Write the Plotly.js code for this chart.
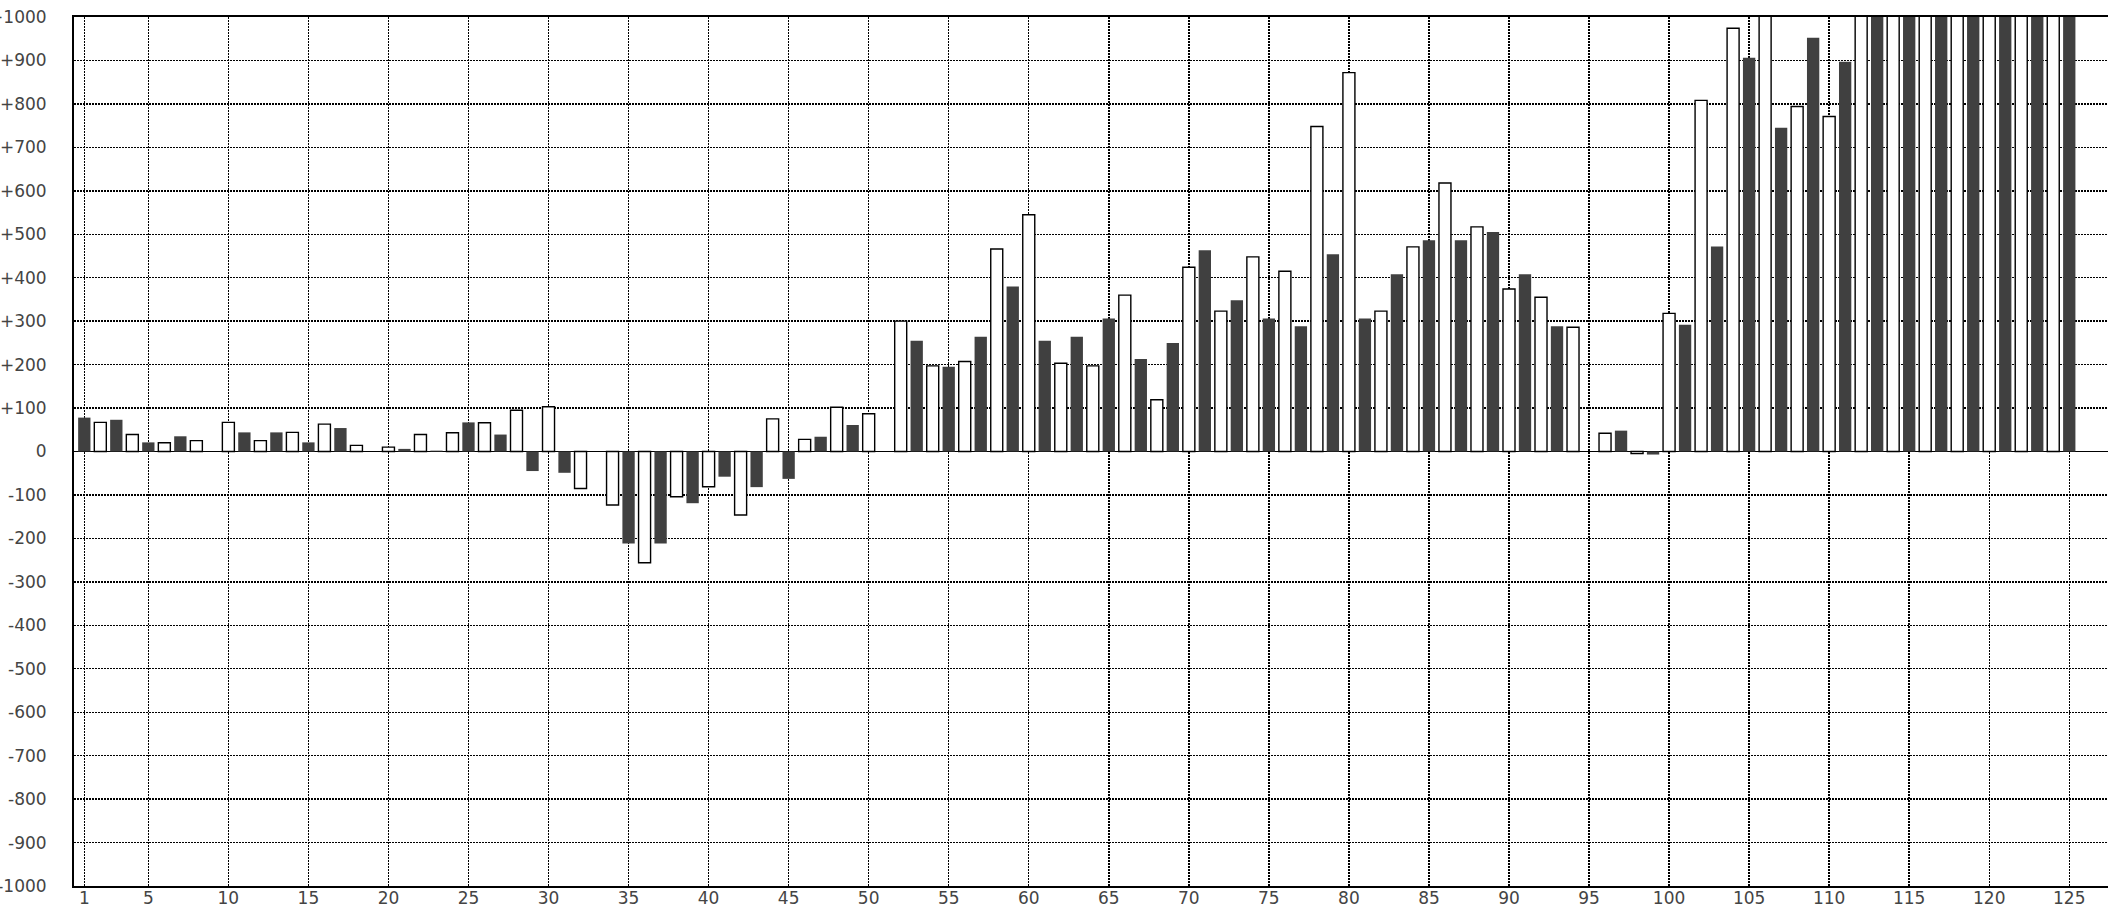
<!DOCTYPE html>
<html>
<head>
<meta charset="utf-8">
<script src="https://cdn.plot.ly/plotly-3.0.1.min.js"></script>
<style>
html,body{margin:0;padding:0;overflow:hidden;background:#fff;}
#chart{width:2112px;height:908px;}
</style>
</head>
<body>
<div id="chart"></div>
<script>
// Dark series: odd positions 1..125
const darkX = [];
for (let i = 1; i <= 125; i += 2) darkX.push(i);
const darkValues = [
  78, 73, 21, 35, 0, 44, 44, 21, 54, 0,
  6, 2, 67, 39, -45, -49, 0, -212, -212, -119,
  -58, -82, -63, 34, 61, 0, 255, 195, 264, 380,
  255, 264, 306, 213, 250, 463, 348, 306, 288, 454,
  306, 408, 486, 486, 505, 408, 288, 0, 48, -7,
  292, 472, 906, 745, 952, 897, 1120, 1240, 1310, 1450,
  1390, 1520, 1610
];
// White series: even positions 2..124
const whiteX = [];
for (let i = 2; i <= 124; i += 2) whiteX.push(i);
const whiteValues = [
  67, 39, 20, 25, 67, 25, 44, 63, 14, 10,
  39, 43, 66, 95, 103, -85, -123, -256, -104, -81,
  -146, 75, 28, 102, 87, 300, 197, 207, 466, 545,
  203, 197, 360, 119, 424, 323, 448, 415, 748, 872,
  323, 471, 618, 517, 374, 355, 286, 42, -5, 318,
  808, 974, 1080, 794, 771, 1150, 1200, 1280, 1330, 1420,
  1480, 1550
];
const xTickVals = [1,5,10,15,20,25,30,35,40,45,50,55,60,65,70,75,80,85,90,95,100,105,110,115,120,125];
const xTickText = xTickVals.map(String);
const yTickVals = [1000,900,800,700,600,500,400,300,200,100,0,-100,-200,-300,-400,-500,-600,-700,-800,-900,-1000];
const yTickText = ["+1000","+900","+800","+700","+600","+500","+400","+300","+200","+100","0","-100","-200","-300","-400","-500","-600","-700","-800","-900","-1000"];

const traces = [
  {
    type: 'bar', x: darkX, y: darkValues, width: 0.77,
    marker: {color: '#404040', line: {width: 0}},
    hoverinfo: 'x+y'
  },
  {
    type: 'bar', x: whiteX, y: whiteValues, width: 0.75,
    marker: {color: '#ffffff', line: {color: '#000000', width: 1.4}},
    hoverinfo: 'x+y'
  }
];

const font = {family: 'DejaVu Sans', size: 17, color: '#444'};
const layout = {
  width: 2112, height: 908,
  margin: {l: 74, r: 0, t: 17, b: 22, pad: 0},
  paper_bgcolor: '#fff', plot_bgcolor: '#fff',
  showlegend: false,
  barmode: 'overlay',
  font: font,
  xaxis: {
    range: [0.3565, 127.67],
    tickmode: 'array', tickvals: xTickVals, ticktext: xTickText,
    ticks: '', tickfont: font, ticklabelstandoff: -4,
    showgrid: true, gridcolor: '#000', gridwidth: 1.4, griddash: '2px,1px',
    showline: true, linecolor: '#000', linewidth: 2, mirror: true,
    zeroline: false, fixedrange: true
  },
  yaxis: {
    range: [-1000, 1000],
    tickmode: 'array', tickvals: yTickVals, ticktext: yTickText,
    ticks: '', tickfont: font, ticklabelstandoff: 22,
    showgrid: true, gridcolor: '#000', gridwidth: 1.4, griddash: '2px,1px',
    showline: true, linecolor: '#000', linewidth: 2, mirror: true,
    zeroline: true, zerolinecolor: '#000', zerolinewidth: 1.6, fixedrange: true
  }
};
Plotly.newPlot('chart', traces, layout, {displayModeBar: false, staticPlot: true});
</script>
</body>
</html>
